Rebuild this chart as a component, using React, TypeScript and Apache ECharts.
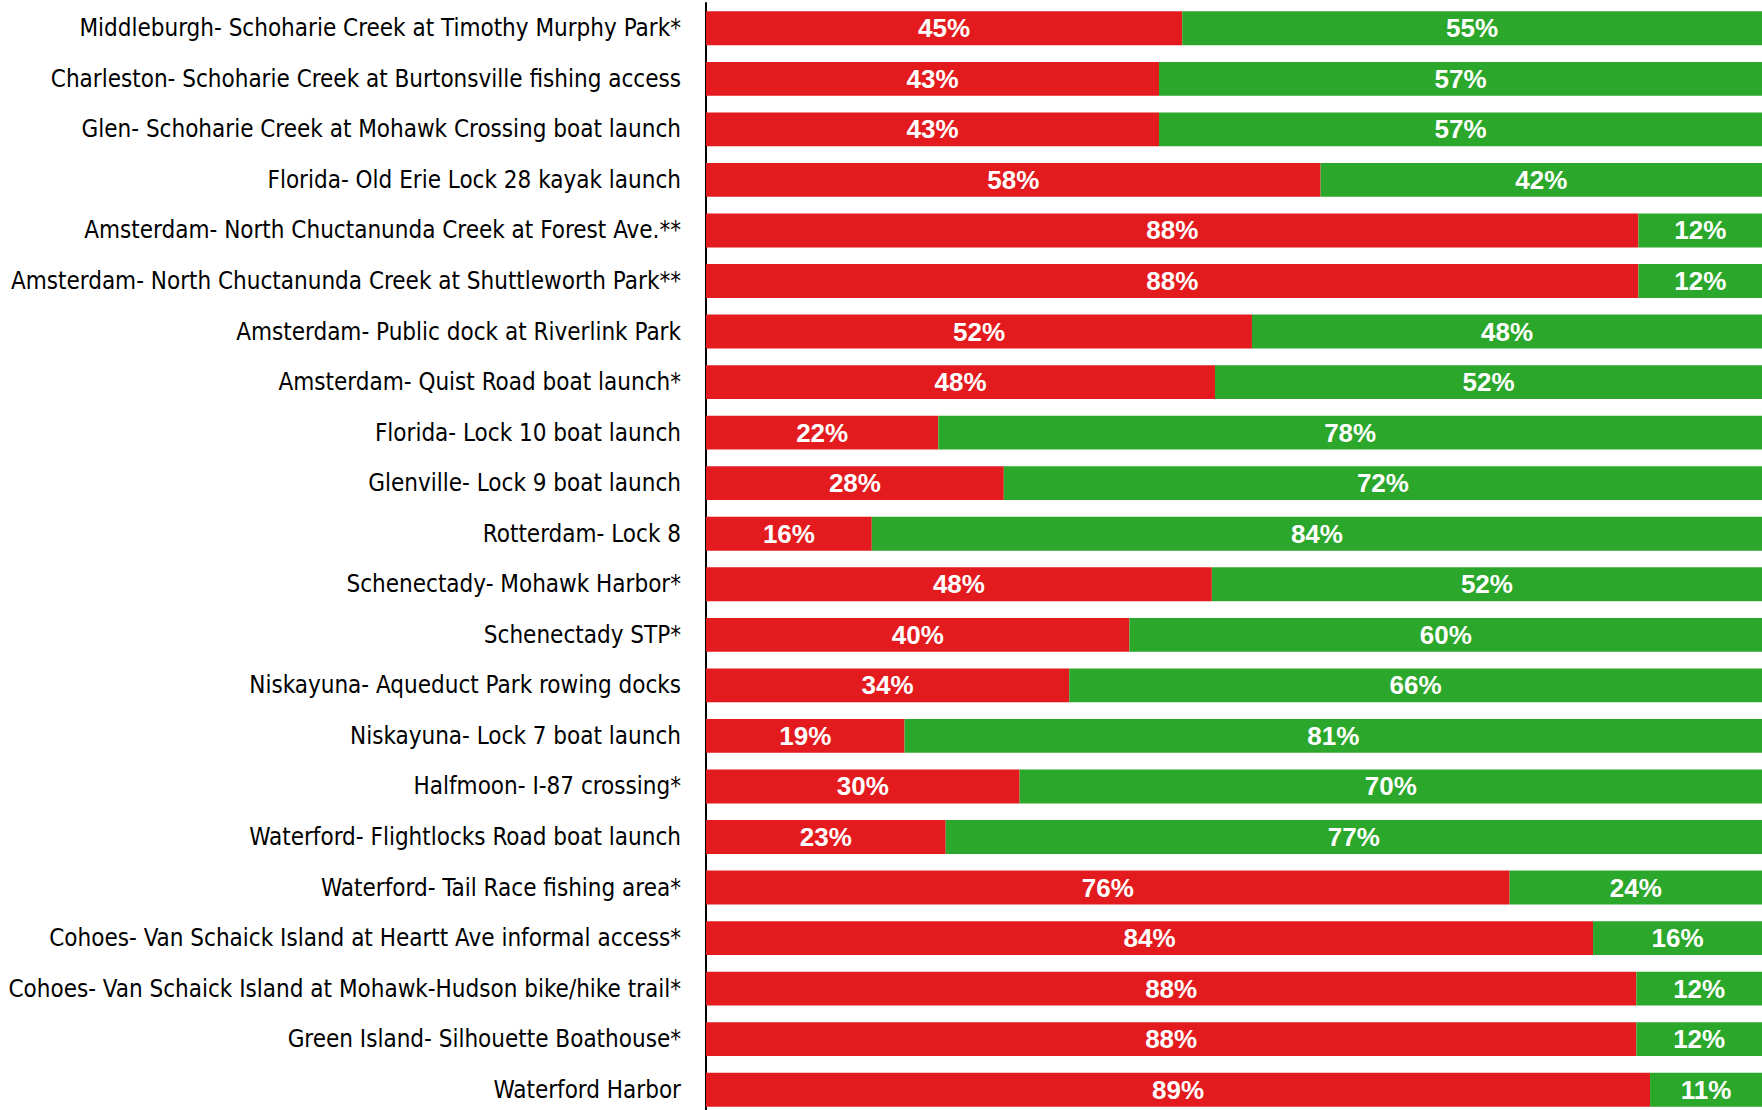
import React, { useEffect, useRef } from "react";
import * as echarts from "echarts";

const categories = [
  "Middleburgh- Schoharie Creek at Timothy Murphy Park*",
  "Charleston- Schoharie Creek at Burtonsville fishing access",
  "Glen- Schoharie Creek at Mohawk Crossing boat launch",
  "Florida- Old Erie Lock 28 kayak launch",
  "Amsterdam- North Chuctanunda Creek at Forest Ave.**",
  "Amsterdam- North Chuctanunda Creek at Shuttleworth Park**",
  "Amsterdam- Public dock at Riverlink Park",
  "Amsterdam- Quist Road boat launch*",
  "Florida- Lock 10 boat launch",
  "Glenville- Lock 9 boat launch",
  "Rotterdam- Lock 8",
  "Schenectady- Mohawk Harbor*",
  "Schenectady STP*",
  "Niskayuna- Aqueduct Park rowing docks",
  "Niskayuna- Lock 7 boat launch",
  "Halfmoon- I-87 crossing*",
  "Waterford- Flightlocks Road boat launch",
  "Waterford- Tail Race fishing area*",
  "Cohoes- Van Schaick Island at Heartt Ave informal access*",
  "Cohoes- Van Schaick Island at Mohawk-Hudson bike/hike trail*",
  "Green Island- Silhouette Boathouse*",
  "Waterford Harbor",
];

const redValues = [45.1, 42.9, 42.9, 58.2, 88.3, 88.3, 51.7, 48.2, 22.0, 28.2, 15.7, 47.9, 40.1, 34.4, 18.8, 29.7, 22.7, 76.1, 84.0, 88.1, 88.1, 89.4];
const greenValues = [54.9, 57.1, 57.1, 41.8, 11.7, 11.7, 48.3, 51.8, 78.0, 71.8, 84.3, 52.1, 59.9, 65.6, 81.2, 70.3, 77.3, 23.9, 16.0, 11.9, 11.9, 10.6];

const RED = "#E41B1E";
const GREEN = "#2BA72B";

export default function App() {
  const ref = useRef<HTMLDivElement>(null);
  useEffect(() => {
    document.body.style.margin = "0";
    const chart = echarts.init(ref.current!, null, { renderer: "svg" });
    const valueLabel = {
      show: true,
      position: "inside",
      color: "#ffffff",
      fontFamily: "'Liberation Sans', Arial, sans-serif",
      fontWeight: "bold",
      fontSize: 26,
      formatter: (p: any) => `${Math.round(p.value)}%`,
    };
    chart.setOption({
      animation: false,
      grid: {
        left: 706,
        right: 0,
        top: 3,
        height: 1112,
        containLabel: false,
        outerBoundsMode: "none",
      },
      xAxis: {
        type: "value",
        min: 0,
        max: 100,
        show: false,
      },
      yAxis: {
        type: "category",
        data: categories,
        inverse: true,
        axisLine: { show: true, lineStyle: { color: "#000", width: 2 } },
        axisTick: { show: false },
        splitLine: { show: false },
        axisLabel: {
          margin: 25,
          color: "#000",
          fontSize: 24,
          fontFamily: "'DejaVu Sans Condensed', 'Liberation Sans Narrow', sans-serif",
        },
      },
      series: [
        {
          type: "bar",
          stack: "total",
          data: redValues,
          barWidth: "67%",
          itemStyle: { color: RED },
          label: valueLabel,
        },
        {
          type: "bar",
          stack: "total",
          data: greenValues,
          barWidth: "67%",
          itemStyle: { color: GREEN },
          label: valueLabel,
        },
      ],
    });
    return () => chart.dispose();
  }, []);
  return <div ref={ref} style={{ width: 1762, height: 1110 }} />;
}
